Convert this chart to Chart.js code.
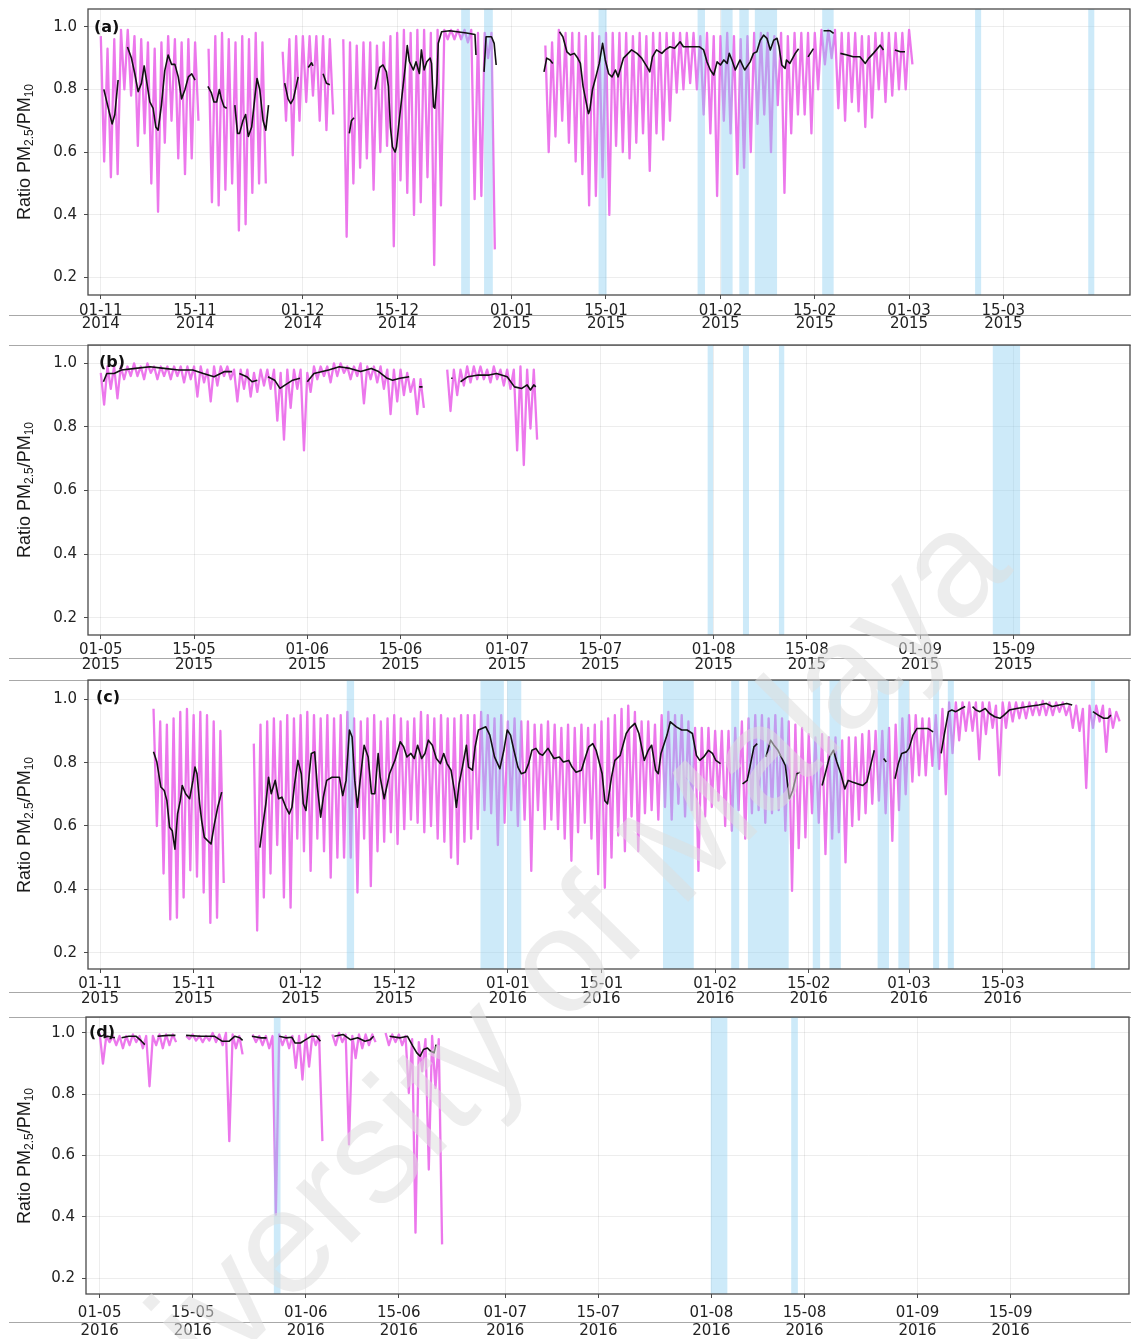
<!DOCTYPE html>
<html>
<head>
<meta charset="utf-8">
<script src="https://cdn.jsdelivr.net/npm/chart.js@4.4.1/dist/chart.umd.min.js"></script>
<style>
  body { margin: 0; background: #fff; }
  #wrap { position: relative; width: 1131px; height: 1339px; overflow: hidden; background: #fff; }
  #wrap canvas { position: absolute; left: 0; z-index: 2; }
  .rule { position: absolute; left: 9px; right: 0; height: 1px; background: #a8a8a8; z-index: 1; }
  .ylab { position: absolute; left: 24px; z-index: 3; white-space: nowrap; color: #1a1a1a;
          font: 18px "Liberation Sans", Arial, sans-serif; transform: translate(-50%, -50%) rotate(-90deg); }
  .ylab sub { font-size: 12px; vertical-align: -3px; line-height: 0; }
  .tag { position: absolute; z-index: 3; font: bold 16px "DejaVu Sans", sans-serif; color: #111; }
  #wm { position: absolute; z-index: 4; left: -18px; top: 1424px; transform-origin: 0 0;
        transform: rotate(-45.4deg); white-space: nowrap; line-height: 1;
        font: 148px "Liberation Sans", Arial, sans-serif; color: rgba(222, 222, 222, 0.55); pointer-events: none; }
</style>
</head>
<body>
<div id="wrap">
  <div id="wm">University of Malaya</div>
</div>
<script>
// ---- panel (a): days counted from 01-11-2014 ----
const ticksA = [0, 14, 30, 44, 61, 75, 92, 106, 120, 134];
const tickLabelsA = [['01-11', '2014'], ['15-11', '2014'], ['01-12', '2014'], ['15-12', '2014'], ['01-01', '2015'],
                     ['15-01', '2015'], ['01-02', '2015'], ['15-02', '2015'], ['01-03', '2015'], ['15-03', '2015']];
const hiA = [
  .97, .93, .96, .99, .99, .97, .96, .95, .93, .95,
  .97, .96, .95, .96, .95, null, .93, .97, .98, .96,
  .95, .97, .96, .98, .95, null, null, .92, .96, .97,
  .97, .97, .97, .97, .96, null, .96, .95, .94, .95,
  .95, .94, .95, .97, .98, .99, .98, .99, .99, .98,
  .99, .99, .99, .99, .99, .99, .98, .98, .98, null,
  null, null, null, null, null, null, .94, .95, .99, .98,
  .98, .98, .97, .98, .97, .98, .98, .98, .98, .97,
  .98, .97, .98, .98, .98, .98, .98, .98, .98, .97,
  .98, .97, .97, .98, .97, .96, .97, .98, .98, .98,
  .97, .98, .97, .98, .98, .98, .98, .99, .99, .99,
  .98, .98, .98, .97, .97, .98, .98, .98, .98, .98,
  .99
];
const loA = [
  .57, .52, .53, .80, .78, .62, .66, .50, .41, .63,
  .70, .58, .53, .58, .70, null, .44, .43, .48, .50,
  .35, .37, .47, .50, .50, null, null, .70, .59, .70,
  .76, .78, .70, .67, .72, null, .33, .50, .55, .58,
  .48, .60, .62, .30, .51, .47, .40, .44, .52, .24,
  .43, .96, .96, .96, .95, .45, .46, .90, .29, null,
  null, null, null, null, null, null, .60, .65, .70, .63,
  .57, .53, .43, .46, .52, .40, .62, .60, .58, .63,
  .66, .54, .66, .64, .70, .79, .80, .82, .80, .72,
  .66, .46, .70, .66, .53, .55, .60, .69, .72, .60,
  .75, .47, .66, .72, .72, .66, .80, .88, .90, .74,
  .70, .76, .73, .68, .71, .80, .76, .78, .80, .80,
  .88
];
const smoothA = [
  [0.45, .80], [1.34, .72], [1.68, .69], [2.08, .72], [2.57, .83], null,
  [3.96, .935], [4.55, .90], [5.05, .85], [5.54, .793], [6.04, .82], [6.44, .875], [6.78, .83], [7.28, .76],
  [7.77, .74], [8.17, .68], [8.51, .67], [9.0, .75], [9.5, .86], [10.0, .91], [10.5, .88], [11.0, .88],
  [11.5, .84], [12.0, .77], [12.5, .80], [13.0, .84], [13.5, .85], [14.0, .83], null,
  [15.9, .81], [16.4, .79], [16.8, .76], [17.2, .76], [17.6, .80], [17.9, .77], [18.3, .745], [18.7, .74], null,
  [19.9, .75], [20.3, .66], [20.6, .66], [21.1, .70], [21.5, .72], [21.9, .65], [22.4, .68], [22.9, .78],
  [23.2, .835], [23.6, .80], [24.1, .70], [24.5, .67], [24.9, .75], null,
  [27.3, .82], [27.8, .77], [28.2, .755], [28.6, .77], [29.0, .81], [29.3, .84], null,
  [30.8, .87], [31.3, .885], [31.5, .875], null,
  [33.0, .85], [33.5, .82], [34.0, .815], null,
  [36.9, .66], [37.2, .70], [37.6, .71], null,
  [40.7, .80], [41.4, .87], [41.9, .878], [42.4, .856], [42.7, .81], [43.0, .68], [43.3, .617], [43.7, .60],
  [43.9, .617], [44.2, .68], [44.7, .777], [45.2, .872], [45.5, .94], [45.8, .89], [46.4, .862], [46.8, .888],
  [47.3, .851], [47.6, .926], [48.0, .862], [48.4, .888], [48.9, .90], [49.1, .883], [49.4, .745], [49.6, .74],
  [49.9, .819], [50.1, .947], [50.6, .984], [51.8, .987], [52.9, .984], [54.3, .98], [55.55, .975], [55.7, .91], null,
  [56.9, .856], [57.2, .968], [58.0, .968], [58.4, .947], [58.7, .878], null,
  [65.8, .856], [66.2, .90], [66.7, .894], [67.1, .883], null,
  [68.1, .984], [68.6, .968], [69.2, .92], [69.7, .91], [70.3, .915], [70.8, .90], [71.2, .883], [71.6, .81],
  [72.0, .766], [72.4, .723], [72.6, .734], [73.0, .80], [73.5, .84], [74.0, .883], [74.5, .947], [74.9, .894],
  [75.4, .85], [75.9, .84], [76.4, .862], [76.8, .84], [77.6, .90], [78.3, .915], [78.8, .926], [79.6, .915],
  [80.3, .90], [81.1, .872], [81.5, .856], [81.9, .904], [82.5, .926], [83.3, .915], [83.8, .926], [84.5, .936],
  [85.2, .931], [86.0, .952], [86.5, .936], [87.2, .936], [88.2, .936], [88.9, .936], [89.5, .926], [90.0, .888],
  [90.5, .862], [91.0, .846], [91.5, .888], [92.0, .878], [92.5, .894], [93.0, .883], [93.3, .915], [93.7, .894],
  [94.2, .862], [94.9, .894], [95.6, .862], [96.4, .888], [96.9, .915], [97.4, .92], [97.9, .957], [98.4, .973],
  [98.9, .963], [99.4, .926], [99.9, .957], [100.4, .963], [100.7, .936], [101.1, .878], [101.6, .867], [101.8, .894],
  [102.3, .883], [103.1, .915], [103.6, .93], null,
  [105.0, .904], [105.8, .93], null,
  [107.3, .987], [108.3, .987], [108.8, .979], null,
  [109.8, .915], [110.8, .91], [111.7, .904], [112.7, .904], [113.5, .883], [114.0, .899], [114.7, .915],
  [115.7, .941], [116.2, .926], null,
  [117.9, .926], [118.7, .92], [119.4, .92]
];
const bandsA = [[53.5, 54.8], [56.9, 58.2], [73.9, 75.1], [88.6, 89.7], [92.1, 93.8], [94.8, 96.2],
                [97.1, 100.4], [107.1, 108.8], [129.8, 130.7], [146.6, 147.5]];

// ---- panel (b): days counted from 01-05-2015 ----
const ticksB = [0, 14, 31, 45, 61, 75, 92, 106, 123, 137];
const tickLabelsB = [['01-05', '2015'], ['15-05', '2015'], ['01-06', '2015'], ['15-06', '2015'], ['01-07', '2015'],
                     ['15-07', '2015'], ['01-08', '2015'], ['15-08', '2015'], ['01-09', '2015'], ['15-09', '2015']];
const hiB = [
  .97, .99, .99, .99, .99, 1.0, .99, 1.0, .99, .99,
  .99, .99, .99, .99, .99, .99, .98, .99, .99, .99,
  .98, .98, .98, .97, .98, .98, .98, .97, .98, .98,
  .98, .97, .99, .99, .99, 1.0, 1.0, .99, .99, 1.0,
  .99, .99, .99, .98, .98, .98, .97, .95, .95, null,
  null, null, .98, .98, .98, .99, .99, .99, .98, .99,
  .98, .98, .98, .99, .98, .98
];
const loB = [
  .87, .92, .89, .95, .96, .96, .95, .97, .95, .96,
  .95, .96, .94, .95, .895, .94, .88, .93, .96, .95,
  .88, .92, .895, .91, .93, .92, .82, .76, .86, .92,
  .726, .91, .95, .96, .94, .96, .97, .95, .96, .874,
  .95, .94, .92, .84, .88, .90, .91, .84, .86, null,
  null, null, .85, .90, .93, .94, .95, .95, .94, .95,
  .93, .92, .726, .68, .795, .76
];
const smoothB = [
  [0.4, .942], [0.9, .968], [2.0, .968], [3.1, .979], [5.2, .984], [7.4, .989], [9.5, .984], [11.7, .979],
  [13.8, .979], [15.4, .968], [17.0, .958], [18.6, .974], [19.7, .974], null,
  [20.8, .968], [21.9, .958], [22.7, .942], [23.5, .947], null,
  [25.1, .958], [26.1, .947], [26.9, .921], [27.7, .932], [28.8, .947], [29.9, .953], null,
  [31.0, .942], [32.0, .968], [34.2, .979], [35.8, .989], [37.4, .984], [39.0, .974], [40.6, .984], [41.7, .974],
  [43.0, .953], [43.8, .947], [44.9, .953], [46.3, .958], null,
  [47.8, .926], [48.3, .926], null,
  [52.6, .953], [52.8, .953], null,
  [54.0, .942], [55.1, .958], [56.7, .963], [58.3, .963], [59.4, .968], [61.0, .958], [62.1, .926], [63.2, .921],
  [64.0, .932], [64.5, .916], [65.0, .932], [65.3, .926]
];
const bandsB = [[91.1, 91.9], [96.4, 97.3], [101.8, 102.6], [133.9, 138.0]];

// ---- panel (c): days counted from 01-11-2015 ----
const ticksC = [0, 14, 30, 44, 61, 75, 92, 106, 121, 135];
const tickLabelsC = [['01-11', '2015'], ['15-11', '2015'], ['01-12', '2015'], ['15-12', '2015'], ['01-01', '2016'],
                     ['15-01', '2016'], ['01-02', '2016'], ['15-02', '2016'], ['01-03', '2016'], ['15-03', '2016']];
const hiC = [
  null, null, null, null, null, null, null, null, .97, .93,
  .92, .94, .96, .97, .95, .96, .95, .93, .90, null,
  null, null, null, .86, .92, .93, .94, .93, .95, .94,
  .95, .96, .95, .94, .95, .94, .95, .96, .94, .93,
  .94, .95, .93, .94, .95, .94, .93, .94, .96, .95,
  .94, .95, .94, .94, .95, .95, .95, .96, .95, .94,
  .95, .93, .94, .93, .93, .92, .92, .93, .92, .91,
  .92, .91, .92, .91, .92, .93, .94, .95, .97, .98,
  .96, .93, .93, .92, .95, .96, .95, .95, .93, .91,
  .91, .91, .90, .90, .90, .91, .93, .94, .95, .95,
  .94, .95, .94, .93, .92, .91, .89, .88, .89, .88,
  .88, .87, .88, .88, .89, .90, .90, .90, .91, .92,
  .94, .95, .95, .94, .94, .95, .97, .99, .99, .99,
  .99, .99, .99, .99, .98, .99, .99, .99, .99, .99,
  .99, .995, .99, .99, .99, .98, .98, .97, .98, .98,
  .98, .97, .96
];
const loC = [
  null, null, null, null, null, null, null, null, .60, .45,
  .305, .31, .374, .46, .44, .39, .294, .31, .42, null,
  null, null, null, .27, .374, .45, .54, .374, .342, .56,
  .52, .458, .56, .52, .437, .50, .50, .50, .39, .56,
  .41, .52, .55, .58, .543, .59, .62, .61, .58, .60,
  .56, .55, .50, .48, .55, .56, .59, .65, .64, .54,
  .61, .65, .60, .62, .458, .65, .59, .62, .59, .56,
  .49, .58, .61, .56, .448, .405, .50, .57, .52, .63,
  .52, .64, .65, .62, .66, .62, .67, .63, .65, .458,
  .63, .66, .68, .60, .585, .65, .56, .64, .65, .61,
  .64, .65, .585, .395, .53, .564, .64, .61, .511, .56,
  .58, .485, .60, .62, .64, .67, .68, .64, .553, .65,
  .70, .74, .76, .76, .79, .78, .70, .83, .87, .90,
  .90, .81, .89, .91, .76, .91, .93, .94, .94, .95,
  .95, .95, .95, .96, .95, .91, .90, .72, .91, .93,
  .834, .91, .93
];
const smoothC = [
  [8.0, .834], [8.5, .802], [9.1, .723], [9.6, .712], [10.0, .68], [10.4, .596], [10.8, .585], [11.2, .527],
  [11.6, .638], [12.0, .68], [12.3, .728], [12.8, .702], [13.4, .686], [13.9, .744], [14.2, .786], [14.5, .765],
  [14.9, .67], [15.2, .617], [15.6, .564], [16.6, .543], [17.1, .606], [17.6, .659], [18.2, .707], null,
  [23.9, .532], [24.3, .596], [24.8, .67], [25.2, .754], [25.6, .702], [26.2, .744], [26.7, .686], [27.2, .691],
  [27.8, .659], [28.3, .638], [28.7, .659], [29.1, .733], [29.6, .807], [30.1, .765], [30.4, .67], [30.8, .649],
  [31.3, .765], [31.6, .829], [32.1, .834], [32.5, .723], [33.0, .628], [33.4, .691], [33.9, .744], [34.7, .754],
  [35.8, .754], [36.3, .696], [36.8, .744], [37.3, .903], [37.7, .881], [38.1, .744], [38.5, .659], [38.9, .744],
  [39.5, .855], [40.1, .818], [40.6, .702], [41.1, .702], [41.6, .829], [41.9, .754], [42.5, .686], [43.3, .765],
  [44.1, .807], [44.9, .866], [45.4, .85], [45.9, .818], [46.5, .829], [47.0, .813], [47.5, .855], [48.1, .813],
  [48.6, .829], [49.1, .871], [49.7, .855], [50.3, .813], [50.9, .797], [51.4, .829], [51.9, .797], [52.5, .776],
  [53.0, .712], [53.3, .659], [53.7, .733], [54.2, .786], [54.8, .855], [55.1, .786], [55.7, .776], [56.1, .85],
  [56.6, .903], [57.7, .913], [58.3, .887], [59.0, .818], [59.8, .781], [60.4, .839], [60.9, .903], [61.4, .887],
  [61.9, .839], [62.5, .786], [63.0, .765], [63.6, .77], [64.1, .797], [64.6, .839], [65.2, .845], [65.7, .829],
  [66.2, .823], [67.0, .845], [67.9, .813], [68.7, .818], [69.3, .802], [70.1, .807], [70.6, .786], [71.2, .77],
  [72.0, .776], [72.6, .818], [73.1, .85], [73.7, .86], [74.2, .839], [75.1, .765], [75.5, .68], [75.9, .67],
  [76.5, .754], [77.0, .807], [77.8, .823], [78.7, .892], [79.2, .908], [80.0, .924], [80.6, .892], [81.4, .807],
  [82.0, .839], [82.5, .855], [83.1, .776], [83.5, .765], [83.9, .829], [84.8, .887], [85.3, .929], [86.2, .913],
  [87.0, .903], [87.8, .903], [88.6, .892], [89.2, .823], [89.7, .807], [90.3, .818], [91.0, .839], [91.6, .829],
  [92.1, .807], [92.8, .797], null,
  [96.1, .733], [96.8, .744], [97.2, .786], [97.8, .85], [98.3, .86], null,
  [99.6, .818], [100.3, .871], [100.8, .855], [101.4, .839], [102.0, .813], [102.5, .791], [103.1, .686],
  [103.6, .712], [104.2, .765], [104.7, .77], null,
  [108.0, .728], [108.6, .776], [109.1, .818], [109.7, .839], [110.2, .802], [110.8, .765], [111.4, .717],
  [111.9, .744], [112.5, .739], [113.3, .733], [114.1, .728], [114.7, .739], [115.2, .786], [115.8, .839], null,
  [117.2, .813], [117.6, .802], null,
  [118.9, .749], [119.4, .797], [119.9, .829], [120.6, .834], [121.0, .845], [121.6, .887], [122.2, .908],
  [123.0, .908], [123.8, .908], [124.6, .897], null,
  [125.8, .829], [126.3, .892], [126.9, .961], [127.4, .966], [128.0, .961], [128.8, .971], [129.4, .977], null,
  [130.5, .977], [131.0, .966], [131.6, .961], [132.4, .971], [133.0, .956], [133.8, .945], [134.6, .94],
  [135.2, .95], [136.0, .966], [137.1, .971], [138.8, .977], [140.4, .982], [141.5, .987], [142.4, .977],
  [143.5, .982], [144.6, .987], [145.4, .982], null,
  [148.5, .961], [149.3, .95], [150.1, .94], [150.7, .94], [151.2, .95]
];
const bandsC = [[36.9, 38.0], [56.9, 60.4], [60.9, 63.0], [84.2, 88.8], [94.4, 95.6], [96.9, 103.0],
                [106.6, 107.7], [109.1, 110.8], [116.3, 118.0], [119.4, 121.0], [124.6, 125.5],
                [126.8, 127.7], [148.2, 148.8]];

// ---- panel (d): days counted from 01-05-2016 ----
const ticksD = [0, 14, 31, 45, 61, 75, 92, 106, 123, 137];
const tickLabelsD = [['01-05', '2016'], ['15-05', '2016'], ['01-06', '2016'], ['15-06', '2016'], ['01-07', '2016'],
                     ['15-07', '2016'], ['01-08', '2016'], ['15-08', '2016'], ['01-09', '2016'], ['15-09', '2016']];
const hiD = [
  1.0, .99, .99, .99, .99, .995, .99, .99, .99, .995,
  .995, .995, null, .99, .995, .99, .99, 1.0, .995, 1.0,
  .995, .99, null, .995, .99, .99, .99, .995, .99, .99,
  .99, .995, .995, .99, null, .995, 1.0, .995, .99, .995,
  .995, .995, null, 1.0, .995, .995, .99, .98, .97, .98,
  .99, .98
];
const loD = [
  .90, .97, .96, .95, .96, .97, .95, .826, .96, .95,
  .96, .97, null, .98, .975, .97, .975, .97, .96, .647,
  .95, .93, null, .97, .96, .95, .407, .96, .95, .886,
  .848, .89, .96, .647, null, .96, .97, .636, .918, .95,
  .96, .97, null, .96, .97, .96, .804, .348, .875, .554,
  .82, .31
];
const smoothD = [
  [0.6, .984], [1.2, .989], [2.3, .984], null,
  [3.3, .984], [4.4, .989], [5.5, .989], [6.3, .973], [6.8, .962], null,
  [8.7, .989], [10.3, .992], [11.4, .992], null,
  [13.0, .992], [15.2, .989], [17.3, .989], [18.4, .973], [19.5, .973], [20.3, .989], [21.1, .984], [21.5, .976], null,
  [22.9, .989], [24.3, .984], [25.1, .984], null,
  [27.0, .989], [28.0, .984], [28.9, .986], [29.4, .967], [30.2, .967], [31.0, .978], [31.8, .989], [32.6, .989],
  [33.2, .973], null,
  [35.3, .989], [36.6, .995], [37.7, .978], [38.8, .984], [39.9, .973], [40.7, .978], [41.2, .989], null,
  [43.6, .989], [45.2, .984], [46.3, .989], [47.1, .957], [47.7, .935], [48.2, .924], [48.7, .946], [49.3, .951],
  [49.8, .94], [50.3, .935], [50.6, .962]
];
const bandsD = [[26.2, 27.2], [91.9, 94.4], [104.0, 105.0]];

const yTicks = [0.2, 0.4, 0.6, 0.8, 1.0];

// where each panel sits on the page (px) and the visible axis ranges
const panels = [
  { tag: '(a)', top: 0,    height: 335, boxTop: 9,  boxBottom: 295, left: 88, right: 1130, lineH: 13, labPad: 5.5,
    xMin: -1.9,  xMax: 152.8, yMin: 0.1445, yMax: 1.0565, tagX: 94, tagY: 17,
    ticks: ticksA, labels: tickLabelsA, hi: hiA, lo: loA, smooth: smoothA, bands: bandsA },
  { tag: '(b)', top: 335,  height: 335, boxTop: 10, boxBottom: 300, left: 88, right: 1130, lineH: 15, labPad: 4,
    xMin: -1.92, xMax: 154.5, yMin: 0.1456, yMax: 1.0576, tagX: 99, tagY: 352,
    ticks: ticksB, labels: tickLabelsB, hi: hiB, lo: loB, smooth: smoothB, bands: bandsB },
  { tag: '(c)', top: 670,  height: 335, boxTop: 10, boxBottom: 299, left: 88, right: 1129, lineH: 15, labPad: 4,
    xMin: -1.8,  xMax: 153.9, yMin: 0.1485, yMax: 1.0609, tagX: 96, tagY: 687,
    ticks: ticksC, labels: tickLabelsC, hi: hiC, lo: loC, smooth: smoothC, bands: bandsC },
  { tag: '(d)', top: 1002, height: 337, boxTop: 15, boxBottom: 292, left: 86, right: 1129, lineH: 18, labPad: 6,
    xMin: -2.05, xMax: 154.8, yMin: 0.148,  yMax: 1.052,  tagX: 89, tagY: 1022,
    ticks: ticksD, labels: tickLabelsD, hi: hiD, lo: loD, smooth: smoothD, bands: bandsD }
];
const rules = [315, 345, 658, 680, 992, 1017, 1322];

// hourly ratio drawn as a day-by-day swing between the daily top and the daily dip
function swing(hi, lo) {
  const pts = [];
  hi.forEach((h, d) => {
    if (h === null) { pts.push({ x: d, y: null }); return; }
    pts.push({ x: d, y: h });
    if (lo[d] !== null) pts.push({ x: d + 0.5, y: lo[d] });
  });
  return pts;
}

function toPoints(pairs) {
  let last = 0;
  return pairs.map(p => {
    if (p === null) return { x: last + 0.05, y: null };
    last = p[0];
    return { x: p[0], y: p[1] };
  });
}

function bandsPlugin(spans) {
  return {
    id: 'bands',
    afterDatasetDraw(chart, args) {
      if (args.index !== 1) return;
      const { ctx, chartArea: a, scales: { x } } = chart;
      ctx.save();
      ctx.beginPath();
      ctx.rect(a.left, a.top, a.right - a.left, a.bottom - a.top);
      ctx.clip();
      ctx.fillStyle = 'rgba(135, 206, 240, 0.42)';
      spans.forEach(([s, e]) => {
        const x0 = x.getPixelForValue(s);
        const x1 = x.getPixelForValue(e);
        ctx.fillRect(x0, a.top, x1 - x0, a.bottom - a.top);
      });
      ctx.restore();
    }
  };
}

const boxPlugin = {
  id: 'box',
  afterDraw(chart) {
    const { ctx, chartArea: a } = chart;
    ctx.save();
    ctx.strokeStyle = '#4a4a4a';
    ctx.lineWidth = 1.3;
    ctx.strokeRect(a.left, a.top, a.right - a.left, a.bottom - a.top);
    ctx.restore();
  }
};

const wrap = document.getElementById('wrap');

rules.forEach(y => {
  const r = document.createElement('div');
  r.className = 'rule';
  r.style.top = y + 'px';
  wrap.appendChild(r);
});

panels.forEach(p => {
  const canvas = document.createElement('canvas');
  canvas.width = 1131;
  canvas.height = p.height;
  canvas.style.top = p.top + 'px';
  wrap.appendChild(canvas);

  const ylab = document.createElement('div');
  ylab.className = 'ylab';
  ylab.style.top = (p.top + (p.boxTop + p.boxBottom) / 2) + 'px';
  ylab.innerHTML = 'Ratio PM<sub>2.5</sub>/PM<sub>10</sub>';
  wrap.appendChild(ylab);

  const tag = document.createElement('div');
  tag.className = 'tag';
  tag.style.left = p.tagX + 'px';
  tag.style.top = p.tagY + 'px';
  tag.textContent = p.tag;
  wrap.appendChild(tag);

  const gridStyle = { color: 'rgba(0,0,0,0.07)', tickColor: '#4a4a4a', tickLength: 4, drawTicks: true };
  const tickFont = { family: 'DejaVu Sans', size: 15 };

  new Chart(canvas, {
    type: 'line',
    data: {
      datasets: [
        { data: toPoints(p.smooth), borderColor: '#111', borderWidth: 1.6, pointRadius: 0,
          spanGaps: false, tension: 0, borderJoinStyle: 'round' },
        { data: swing(p.hi, p.lo), borderColor: 'rgba(234, 104, 234, 0.9)', borderWidth: 2.3, pointRadius: 0,
          spanGaps: false, tension: 0, borderJoinStyle: 'round' }
      ]
    },
    options: {
      responsive: false,
      animation: false,
      devicePixelRatio: 1,
      layout: { padding: { top: p.boxTop, right: 1131 - p.right, left: 0, bottom: 0 } },
      plugins: { legend: { display: false }, tooltip: { enabled: false } },
      scales: {
        x: {
          type: 'linear', min: p.xMin, max: p.xMax, bounds: 'data',
          afterBuildTicks: s => { s.ticks = p.ticks.map(v => ({ value: v })); },
          afterFit: s => { s.height = p.height - p.boxBottom; s.paddingLeft = 0; s.paddingRight = 0; },
          ticks: { autoSkip: false, maxRotation: 0, minRotation: 0, padding: p.labPad, color: '#222',
                   font: { ...tickFont, lineHeight: p.lineH + 'px' },
                   callback: (v, i) => p.labels[i] },
          grid: gridStyle,
          border: { display: false }
        },
        y: {
          type: 'linear', min: p.yMin, max: p.yMax, bounds: 'data',
          afterBuildTicks: s => { s.ticks = yTicks.map(v => ({ value: v })); },
          afterFit: s => { s.width = p.left; s.paddingTop = 0; s.paddingBottom = 0; },
          ticks: { padding: 7, color: '#222', font: tickFont, callback: v => v.toFixed(1) },
          grid: gridStyle,
          border: { display: false }
        }
      }
    },
    plugins: [bandsPlugin(p.bands), boxPlugin]
  });
});
</script>
</body>
</html>
